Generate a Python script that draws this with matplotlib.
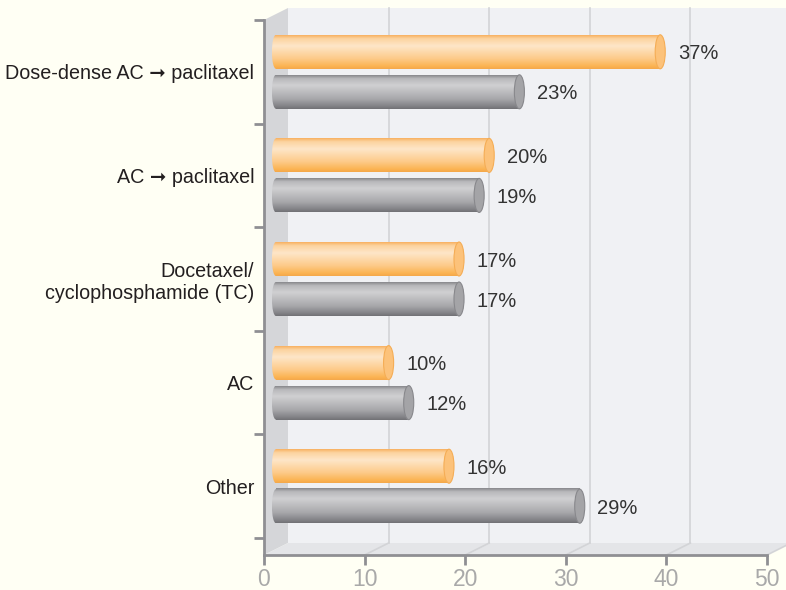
import numpy as np
import matplotlib
matplotlib.use("Agg")
import matplotlib.pyplot as plt
from matplotlib.patches import Ellipse, Polygon
from matplotlib.transforms import ScaledTranslation
from matplotlib.colors import to_rgb

plt.rcParams['font.family'] = ['Liberation Sans', 'DejaVu Sans']

# Regimen shares, in percent
categories = ["Dose-dense AC \u279e paclitaxel", "AC \u279e paclitaxel",
              "Docetaxel/\ncyclophosphamide (TC)", "AC", "Other"]
series_a = [37, 20, 17, 10, 16]   # orange bars
series_b = [23, 19, 17, 12, 29]   # gray bars
x_ticks = [0, 10, 20, 30, 40, 50]

bg = "#fffff4"
fig = plt.figure(figsize=(7.86, 5.90), dpi=100, facecolor=bg)
W, H = 786, 590
ax = fig.add_axes([264 / W, (H - 555) / H, 503 / W, 535 / H])
ax.set_facecolor("none")
ymax = 4.5 + 17 / 103.6
ax.set_xlim(0, 50)
ax.set_ylim(ymax, -0.5)

# depth offset of the back wall, in pixels
DX, DY = 24, 12
back_axes = ax.transAxes + ScaledTranslation(DX / 100, DY / 100, fig.dpi_scale_trans)
back_data = ax.transData + ScaledTranslation(DX / 100, DY / 100, fig.dpi_scale_trans)
bar_data = ax.transData + ScaledTranslation(DX / 100, 0, fig.dpi_scale_trans)

# back wall, side wall and floor
ax.add_patch(Polygon([(0, 0), (1.05, 0), (1.05, 1), (0, 1)], closed=True,
                     transform=back_axes, facecolor="#f0f1f4", edgecolor="none",
                     zorder=0, clip_on=False))
inv = ax.transAxes.inverted()
side = np.array([[0, 0], [0, 1]])
pts = [ax.transAxes.transform(p) for p in side] + \
      [back_axes.transform(p) for p in side[::-1]]
ax.add_patch(Polygon([inv.transform(p) for p in pts], closed=True,
                     transform=ax.transAxes, facecolor="#d5d6d9",
                     edgecolor="none", zorder=0.5, clip_on=False))
floor = np.array([[0, 0], [1, 0]])
pts = [ax.transAxes.transform(p) for p in floor] + \
      [back_axes.transform(p) for p in floor[::-1]]
ax.add_patch(Polygon([inv.transform(p) for p in pts], closed=True,
                     transform=ax.transAxes, facecolor="#e4e5e8",
                     edgecolor="none", zorder=0.5, clip_on=False))

# grid on the back wall and floor
grid_c = "#d3d4d7"
for v in x_ticks[1:-1]:
    ax.plot([v, v], [ymax, -0.5], color=grid_c, lw=1.2,
            transform=back_data, zorder=1, clip_on=False)
for v in x_ticks[1:]:
    p0 = ax.transData.transform((v, ymax))
    p1 = back_data.transform((v, ymax))
    q0, q1 = ax.transData.inverted().transform([p0, p1])
    ax.plot([q0[0], q1[0]], [q0[1], q1[1]], color=grid_c, lw=1.2,
            zorder=1, clip_on=False)


def gradient(stops, n=120):
    pos = [s[0] for s in stops]
    cols = np.array([to_rgb(s[1]) for s in stops])
    t = np.linspace(0, 1, n)
    g = np.stack([np.interp(t, pos, cols[:, k]) for k in range(3)], axis=-1)
    return g[:, None, :]


orange_grad = gradient([(0, "#f8b060"), (0.1, "#fcd39f"), (0.32, "#fee6c8"),
                        (0.7, "#fdca88"), (0.92, "#fbb352"), (1, "#f4a84a")])
gray_grad = gradient([(0, "#88888c"), (0.1, "#b8b8bb"), (0.3, "#d0d0d2"),
                      (0.7, "#a8a8ab"), (0.92, "#828286"), (1, "#717175")])

bar_h = 34 / 103.6
off = 20 / 103.6
start = -1.2
cap_w = 1.0
end_w = 0.8


def cylinder(y, value, grad, cap_face, cap_edge):
    top, bot = y - bar_h / 2, y + bar_h / 2
    ax.imshow(grad, extent=(start, value, bot, top), origin="upper",
              aspect="auto", transform=bar_data, zorder=3, interpolation="bilinear")
    left = Ellipse((start, y), end_w, bar_h, transform=bar_data,
                   facecolor="none", edgecolor="none")
    ax.add_patch(left)
    im = ax.imshow(grad, extent=(start - end_w / 2, start, bot, top),
                   origin="upper", aspect="auto", transform=bar_data,
                   zorder=3, interpolation="bilinear")
    im.set_clip_path(left)
    ax.add_patch(Ellipse((value, y), cap_w, bar_h, transform=bar_data,
                         facecolor=cap_face, edgecolor=cap_edge, lw=0.8, zorder=4))
    ax.text(value + 1.75, y + 0.02, f"{value}%", transform=bar_data, va="center",
            ha="left", fontsize=14.5, color="#333333", zorder=5)


for i, (a, b) in enumerate(zip(series_a, series_b)):
    cylinder(i - off, a, orange_grad, "#fcc27a", "#f5ad55")
    cylinder(i + off, b, gray_grad, "#a4a4a7", "#88888c")

ax.set_xlim(0, 50)
ax.set_ylim(ymax, -0.5)

# axes, ticks and labels
axis_c = "#8f8f93"
for s in ("top", "right"):
    ax.spines[s].set_visible(False)
for s in ("left", "bottom"):
    ax.spines[s].set_color(axis_c)
    ax.spines[s].set_linewidth(2)
    ax.spines[s].set_zorder(6)

ax.set_xticks(x_ticks)
ax.set_xticklabels([str(v) for v in x_ticks], fontsize=16.5, color="#a9a9a9")
ax.tick_params(axis="x", length=7, width=2, color=axis_c, pad=2)

ax.set_yticks(np.arange(-0.5, 5, 1))
ax.set_yticklabels([])
ax.tick_params(axis="y", which="major", length=7, width=2, color=axis_c)
ax.set_yticks(range(len(categories)), categories, minor=True)
ax.tick_params(axis="y", which="minor", length=0, pad=7, labelsize=14.2,
               labelcolor="#231f20")
for lab in ax.get_yticklabels(minor=True):
    lab.set_multialignment("right")

fig.savefig("out.png", dpi=100, facecolor=bg)
